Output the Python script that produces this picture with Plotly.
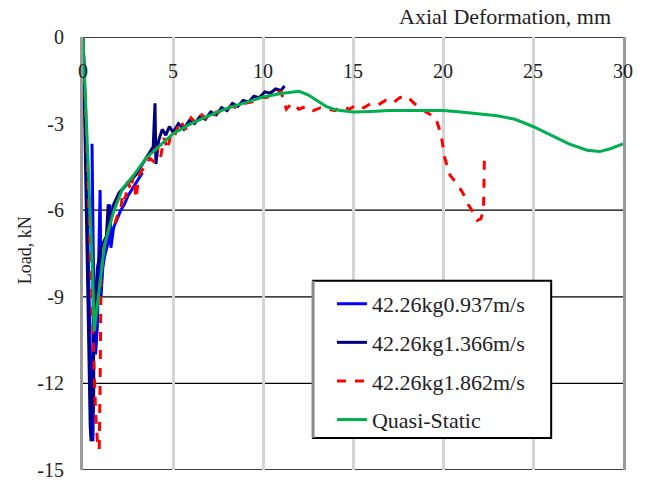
import plotly.graph_objects as go

# ---- data ----
qs_x = [0, 0.1, 0.2, 0.3, 0.45, 0.55, 0.62, 0.75, 0.9, 1.2, 1.5, 1.7, 2.2, 2.8, 3.5, 4.2, 5, 6, 7, 8, 9, 10, 11, 12, 12.5, 13, 13.5, 14, 15, 16, 17, 18, 19, 20, 21, 22, 23, 24, 25, 26, 27, 28, 28.7, 29.3, 30]
qs_y = [0, -1.5, -3.0, -4.5, -6.5, -8.5, -10.2, -9.5, -8.6, -7.2, -6.5, -6.05, -5.25, -4.8, -4.2, -3.8, -3.35, -3.0, -2.72, -2.47, -2.27, -2.08, -1.96, -1.88, -2.0, -2.2, -2.4, -2.52, -2.6, -2.58, -2.55, -2.55, -2.55, -2.55, -2.6, -2.67, -2.73, -2.85, -3.1, -3.4, -3.7, -3.92, -3.97, -3.87, -3.7]

b1_x = [0, 0.1, 0.2, 0.3, 0.4, 0.5, 0.55, 0.6, 0.5, 0.6, 0.7, 0.8, 0.95, 1.0, 1.1, 1.2, 1.4, 1.5, 1.55, 1.7, 1.9, 2.1, 2.3, 2.5, 2.7, 2.9, 3.1, 3.3]
b1_y = [0, -2, -5, -8, -11, -13.5, -14, -12, -3.7, -9, -11, -10, -5.3, -9, -8, -7.6, -7.1, -5.8, -7.3, -6.6, -6.3, -6.0, -5.8, -5.5, -5.3, -5.1, -4.9, -4.7]

b2_x = [0, 0.05, 0.1, 0.15, 0.2, 0.25, 0.3, 0.35, 0.4, 0.45, 0.5, 0.55, 0.6, 0.7, 0.8, 1.0, 1.3, 1.4, 1.5, 1.7, 2.0, 2.3, 2.6, 2.9, 3.2, 3.5, 3.7, 3.9, 4.0, 4.05, 4.2, 4.4, 4.6, 4.8, 5.0, 5.3, 5.6, 5.9, 6.2, 6.5, 6.8, 7.1, 7.4, 7.7, 8.0, 8.3, 8.6, 8.9, 9.2, 9.5, 9.8, 10.1, 10.4, 10.7, 11.0, 11.2]
b2_y = [0, -1, -3, -5, -7, -9, -11, -12.5, -13.5, -14, -12, -13, -10, -9, -8, -7.3, -6.9, -5.8, -6.5, -5.8, -5.4, -5.2, -5.0, -4.8, -4.5, -4.2, -4.0, -3.8, -2.3, -4.4, -3.6, -3.2, -3.4, -3.1, -3.3, -3.0, -3.2, -2.9, -3.0, -2.75, -2.85, -2.6, -2.7, -2.45, -2.55, -2.3, -2.4, -2.2, -2.25, -2.05, -2.1, -1.9, -1.95, -1.8, -1.85, -1.7]

r_x = [0, 0.1, 0.2, 0.3, 0.4, 0.5, 0.6, 0.7, 0.8, 0.9, 0.95, 1.0, 1.1, 1.3, 1.5, 1.7, 1.9, 2.1, 2.2, 2.35, 2.5, 2.65, 2.8, 2.95, 3.1, 3.3, 3.5, 3.7, 3.9, 4.1, 4.3, 4.5, 4.7, 4.9, 5.1, 5.4, 5.7, 6.0, 6.3, 6.6, 7.0, 7.4, 7.8, 8.2, 8.6, 9.0, 9.4, 9.8, 10.2, 10.6, 11.0, 11.3, 11.6, 12.0, 12.4, 12.8, 13.2, 13.6, 14.0, 14.4, 14.8, 15.2, 15.6, 16.0, 16.4, 16.8, 17.2, 17.6, 18.0, 18.4, 18.8, 19.2, 19.6, 19.9, 20.1, 20.4, 20.8, 21.1, 21.4, 21.7, 21.9, 22.1, 22.25, 22.3]
r_y = [0, -1.5, -3.5, -5.5, -7.5, -9.5, -11.5, -13, -14, -14.3, -12, -8.5, -7.5, -7.0, -6.5, -6.6, -6.2, -6.0, -5.4, -5.6, -5.0, -5.3, -4.8, -5.6, -4.8, -4.6, -4.5, -4.2, -4.3, -3.8, -4.2, -3.5, -3.9, -3.3, -3.4, -2.9, -3.2, -2.8, -3.0, -2.7, -2.9, -2.6, -2.6, -2.4, -2.45, -2.3, -2.25, -2.1, -2.1, -1.95, -1.9, -2.5, -2.3, -2.5, -2.4, -2.55, -2.45, -2.5, -2.55, -2.4, -2.5, -2.35, -2.45, -2.3, -2.35, -2.2, -2.3, -2.1, -2.05, -2.3, -2.5, -2.65, -2.8, -3.4, -4.2, -4.8, -5.1, -5.4, -5.8, -6.1, -6.35, -6.3, -6.0, -4.15]

names = ["42.26kg0.937m/s", "42.26kg1.366m/s", "42.26kg1.862m/s", "Quasi-Static"]
colors = ["#0000ff", "#000080", "#ff0000", "#00b050"]

x_ticks = [0, 5, 10, 15, 20, 25, 30]
y_ticks = [0, -3, -6, -9, -12, -15]
y_tick_text = ["0", "-3", "-6", "-9", "-12", "-15"]
hlines = [0, -6, -9, -12, -15]

FONT = "Liberation Serif"
TXT = "#222222"

fig = go.Figure()
fig.add_trace(go.Scatter(x=b1_x, y=b1_y, mode="lines", name=names[0], legendgroup="a",
                         line=dict(color=colors[0], width=3)))
fig.add_trace(go.Scatter(x=b2_x, y=b2_y, mode="lines", name=names[1], legendgroup="b",
                         line=dict(color=colors[1], width=3)))
fig.add_trace(go.Scatter(x=r_x, y=r_y, mode="lines", name=names[2], legendgroup="c",
                         line=dict(color=colors[2], width=3, dash="dash")))
fig.add_trace(go.Scatter(x=qs_x, y=qs_y, mode="lines", name=names[3], legendgroup="d",
                         line=dict(color=colors[3], width=3)))

for h in hlines:
    fig.add_shape(type="line", xref="x", yref="y", x0=0, x1=30, y0=h, y1=h,
                  line=dict(color="black", width=1.3), layer="below")

# legend frame
fig.add_shape(type="rect", xref="paper", yref="paper", x0=0.426, x1=0.867, y0=0.074, y1=0.437,
              line=dict(color="black", width=2), fillcolor="white", layer="above")
fig.add_shape(type="line", xref="paper", yref="paper", x0=0.426, x1=0.426, y0=0.074, y1=0.437,
              line=dict(color="#8a8a8a", width=3), layer="above")

fig.update_layout(
    width=652, height=481,
    margin=dict(l=83, r=29, t=37, b=11, autoexpand=False),
    paper_bgcolor="white", plot_bgcolor="white",
    font=dict(family=FONT, size=20, color=TXT),
    showlegend=True,
    legend=dict(x=0.461, y=0.432, xanchor="left", yanchor="top",
                bgcolor="rgba(0,0,0,0)", borderwidth=0,
                font=dict(family=FONT, size=22, color=TXT),
                itemwidth=30, tracegroupgap=7, traceorder="grouped"),
    xaxis=dict(range=[0, 30], side="top", tickvals=x_ticks, automargin=False,
               ticks="", ticklabelposition="inside", ticklabelstandoff=24,
               ticklabeloverflow="allow",
               showgrid=True, gridcolor="#d4d4d4", gridwidth=3,
               zeroline=False, showline=False,
               tickfont=dict(family=FONT, size=20, color=TXT),
               title=None),
    yaxis=dict(range=[-15, 0], tickvals=y_ticks, ticktext=y_tick_text, automargin=False,
               ticks="", ticklabelstandoff=12, ticklabeloverflow="allow",
               showgrid=False, zeroline=False,
               showline=True, linecolor="#9a9a9a", linewidth=3, mirror=True,
               tickfont=dict(family=FONT, size=20, color=TXT),
               title=None),
)
fig.add_annotation(text="Axial Deformation, mm", xref="paper", yref="paper",
                   x=1.0, y=1.0, xanchor="right", yanchor="bottom", yshift=6, xshift=-10,
                   showarrow=False, font=dict(family=FONT, size=22, color=TXT))
fig.add_annotation(text="Load, kN", xref="paper", yref="paper", textangle=-90,
                   x=-0.107, y=0.508, xanchor="center", yanchor="middle",
                   showarrow=False, font=dict(family=FONT, size=18, color=TXT))

fig.write_html("out.html")
